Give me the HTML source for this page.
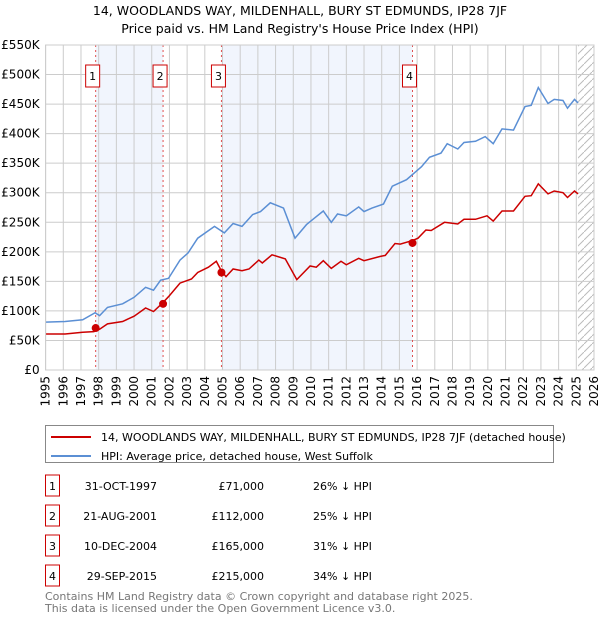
<!DOCTYPE html>
<html><head><meta charset="utf-8"><style>
body{margin:0;background:#fff;font-family:"DejaVu Sans","Liberation Sans",sans-serif}
svg text{font-family:"DejaVu Sans","Liberation Sans",sans-serif}
</style></head><body>
<svg id="chart" width="600" height="620" xmlns="http://www.w3.org/2000/svg">
<defs><pattern id="hatch" patternUnits="userSpaceOnUse" width="8" height="8"><path d="M0,8 L8,0" stroke="#bbb" stroke-width="1"/></pattern></defs>
<text x="300" y="15" font-size="12.5" text-anchor="middle">14, WOODLANDS WAY, MILDENHALL, BURY ST EDMUNDS, IP28 7JF</text>
<text x="300" y="33" font-size="12.5" text-anchor="middle">Price paid vs. HM Land Registry's House Price Index (HPI)</text>
<g id="plot"></g>
<rect x="45.5" y="425.5" width="508" height="37" fill="#fff" stroke="#888"/>
<line x1="51" y1="437" x2="91" y2="437" stroke="#cc0000" stroke-width="2"/>
<text x="101" y="441" font-size="11">14, WOODLANDS WAY, MILDENHALL, BURY ST EDMUNDS, IP28 7JF (detached house)</text>
<line x1="51" y1="456" x2="91" y2="456" stroke="#5b8fd4" stroke-width="2"/>
<text x="101" y="460" font-size="11">HPI: Average price, detached house, West Suffolk</text>
<g id="table" font-size="11"></g>
<text x="45" y="600" font-size="11" fill="#777">Contains HM Land Registry data © Crown copyright and database right 2025.</text>
<text x="45" y="612" font-size="11" fill="#777">This data is licensed under the Open Government Licence v3.0.</text>
</svg>
<script>
const hpiYears=[1995,1996.1,1997.1,1997.8,1998.05,1998.5,1999.35,2000,2000.65,2001.1,2001.5,2001.95,2002.6,2003.05,2003.6,2004.55,2005.1,2005.6,2006.1,2006.7,2007.15,2007.7,2008.45,2009.1,2009.75,2010.2,2010.7,2011.15,2011.5,2012,2012.7,2013,2013.45,2014.1,2014.6,2015.4,2016.25,2016.7,2017.35,2017.7,2018.3,2018.65,2019.3,2019.85,2020.3,2020.8,2021.45,2022.1,2022.45,2022.85,2023.4,2023.75,2024.25,2024.5,2024.9,2025.1];
const hpiValues=[81,82,85,97,92,106,112,123,140,135,152,155,186,198,223,243,232,248,243,263,268,283,274,223,246,257,269,250,264,261,276,268,274,281,311,322,344,360,367,383,374,385,387,395,383,408,406,446,448,478,451,458,456,443,458,452];
const propYears=[1995,1996.1,1997.1,1997.73,1998.05,1998.5,1999.35,2000,2000.65,2001.1,2001.6,2001.95,2002.6,2003.25,2003.6,2004.2,2004.65,2004.95,2005.2,2005.6,2006.1,2006.5,2007.05,2007.25,2007.8,2008.55,2009.2,2009.95,2010.3,2010.7,2011.15,2011.7,2012,2012.7,2013,2013.9,2014.2,2014.75,2015.05,2015.73,2016.05,2016.5,2016.8,2017.55,2018.3,2018.65,2019.3,2019.95,2020.3,2020.8,2021.45,2022.1,2022.45,2022.85,2023.4,2023.75,2024.25,2024.5,2024.9,2025.1];
const propValues=[61,61,64,65,69,78,82,91,105,99,113,124,147,154,165,174,184,167,158,171,168,171,186,181,195,188,153,176,174,185,172,184,178,189,185,192,194,214,213,219,223,237,236,250,247,255,255,261,252,269,269,294,295,315,298,303,300,292,303,298];
const saleLabels=["1","2","3","4"];
const saleYears=[1997.83,2001.64,2004.94,2015.74];
const saleValues=[71,112,165,215];
const saleDates=["31-OCT-1997","21-AUG-2001","10-DEC-2004","29-SEP-2015"];
const salePrices=["£71,000","£112,000","£165,000","£215,000"];
const saleDiffs=["26% ↓ HPI","25% ↓ HPI","31% ↓ HPI","34% ↓ HPI"];
const yTicks=[0,50,100,150,200,250,300,350,400,450,500,550];
const yTickLabels=["£0","£50K","£100K","£150K","£200K","£250K","£300K","£350K","£400K","£450K","£500K","£550K"];
const xTicks=[1995,1996,1997,1998,1999,2000,2001,2002,2003,2004,2005,2006,2007,2008,2009,2010,2011,2012,2013,2014,2015,2016,2017,2018,2019,2020,2021,2022,2023,2024,2025,2026];

const L=45.6,R=594,T=45,B=370;
const x=y=>L+(y-1995)/31*(R-L);
const yv=v=>B-v/550*(B-T);
const NS="http://www.w3.org/2000/svg";
const g=document.getElementById('plot');
function mk(tag,attrs,parent){const e=document.createElementNS(NS,tag);for(const k in attrs)e.setAttribute(k,attrs[k]);(parent||g).appendChild(e);return e;}
// shaded bands
for(let i=0;i<saleYears.length;i+=2){
 const b=mk('rect',{x:x(saleYears[i]),y:T,width:x(saleYears[i+1])-x(saleYears[i]),height:B-T,fill:'#eef3fc',opacity:0.8});
 
 
}
// hatch for future
const h=mk('rect',{x:x(2025.1),y:T,width:R-x(2025.1),height:B-T,fill:'url(#hatch)'});


// grid
xTicks.forEach((t,i)=>{
 const l=mk('line',{x1:x(t),x2:x(t),y1:T,y2:B,stroke:'#ccc','stroke-width':1});
 
 
 const tx=mk('text',{x:0,y:0,'font-size':12,'text-anchor':'end',transform:`translate(${x(t)+4},${B+6}) rotate(-90)`});
 tx.textContent=t;
 
 
});
yTicks.forEach((t,i)=>{
 const l=mk('line',{x1:L,x2:R,y1:yv(t),y2:yv(t),stroke:'#ccc','stroke-width':1});
 
 
 const tx=mk('text',{x:L-6,y:yv(t)+4,'font-size':12,'text-anchor':'end'});
 tx.textContent=yTickLabels[i];
 
 
});
// sale vlines and markers
saleYears.forEach((s,i)=>{
 const l=mk('line',{x1:x(s),x2:x(s),y1:T,y2:B,stroke:'#e05050','stroke-width':1,'stroke-dasharray':'2,3'});
 
 
 const bx=mk('rect',{x:x(s)-10,y:65,width:14,height:22,fill:'#fff',stroke:'#cc0000'});
 
 
 const t=mk('text',{x:x(s)-3,y:80,'font-size':11,'text-anchor':'middle'});
 t.textContent=saleLabels[i];
 
 
});
function path(xs,vs,color,name){
 const d=xs.map((t,i)=>(i?'L':'M')+x(t).toFixed(1)+','+yv(vs[i]).toFixed(1)).join(' ');
 const p=mk('path',{d:d,fill:'none',stroke:color,'stroke-width':1.5});
 
 
}
path(hpiYears,hpiValues,'#5b8fd4','hpi-line');
path(propYears,propValues,'#cc0000','property-line');
saleYears.forEach((s,i)=>{
 const c=mk('circle',{cx:x(s),cy:yv(saleValues[i]),r:4,fill:'#cc0000'});
 
 
});
mk('rect',{x:L,y:T,width:R-L,height:B-T,fill:'none',stroke:'#ccc'});
// table
const tb=document.getElementById('table');
const rowY=[486,516,546,576];
saleLabels.forEach((lab,i)=>{
 const ry=rowY[i];
 const b=mk('rect',{x:45.5,y:ry-11,width:14,height:21,fill:'#fff',stroke:'#cc0000'},tb);
 
 
 const cells=[[52.5,'middle',lab,'table-row-number'],[157,'end',saleDates[i],'table-date'],[264,'end',salePrices[i],'table-price'],[313,'start',saleDiffs[i],'table-hpi-diff']];
 cells.forEach(c=>{
  const t=mk('text',{x:c[0],y:ry+4,'text-anchor':c[1]},tb);
  t.textContent=c[2];
  
  
 });
});
</script>
</body></html>
